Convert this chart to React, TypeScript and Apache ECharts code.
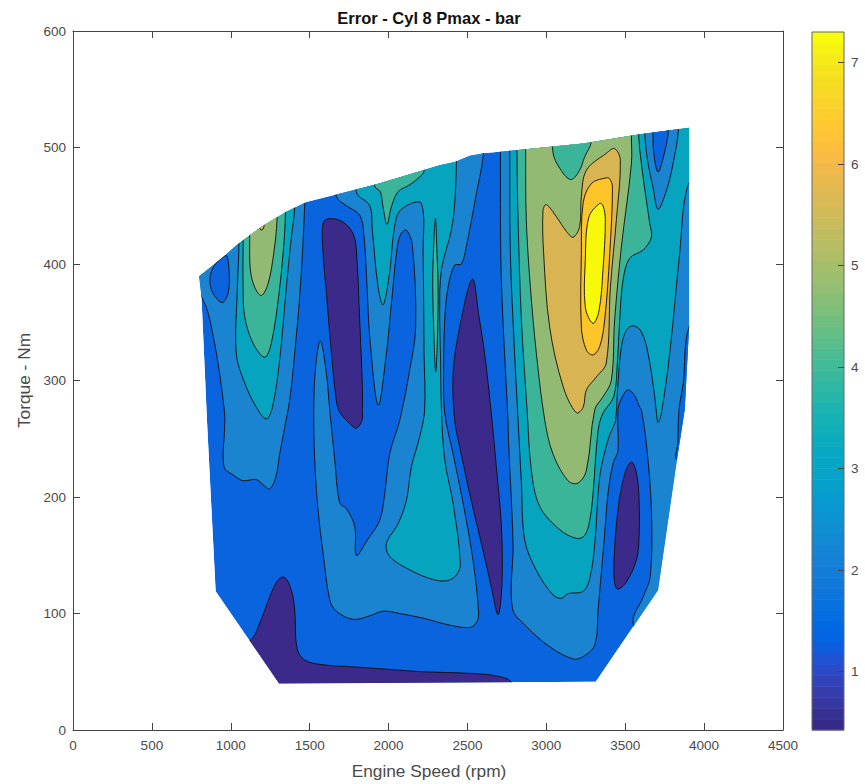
import React, { useEffect, useRef } from "react";
import * as echarts from "echarts";

type Pt = number[];

const xTickValues = [0, 500, 1000, 1500, 2000, 2500, 3000, 3500, 4000, 4500];
const yTickValues = [0, 100, 200, 300, 400, 500, 600];
const colorbarTicks = [1, 2, 3, 4, 5, 6, 7];
const colorbarMin = 0.426;
const colorbarMax = 7.3;

const bandColors = ["#3b2a8a", "#0a64de", "#1a84d0", "#07a4c0", "#3ab59a", "#93ba72", "#d9b452", "#fdc528", "#f8f80a"];

const parula = [
  [0.2081,0.1663,0.5292],[0.2116,0.1898,0.5777],[0.2123,0.2138,0.627],[0.2081,0.2386,0.6771],[0.1959,0.2645,0.7279],[0.1707,0.2919,0.7792],[0.1253,0.3242,0.8303],[0.0591,0.3598,0.8683],
  [0.0117,0.3875,0.882],[0.006,0.4086,0.8828],[0.0165,0.4266,0.8786],[0.0329,0.443,0.872],[0.0498,0.4586,0.8641],[0.0629,0.4737,0.8554],[0.0723,0.4887,0.8467],[0.0779,0.504,0.8384],
  [0.0793,0.52,0.8312],[0.0749,0.5375,0.8263],[0.0641,0.557,0.824],[0.0488,0.5772,0.8228],[0.0343,0.5966,0.8199],[0.0265,0.6137,0.8135],[0.0239,0.6287,0.8038],[0.0231,0.6418,0.7913],
  [0.0228,0.6535,0.7768],[0.0267,0.6642,0.7607],[0.0384,0.6743,0.7436],[0.059,0.6838,0.7254],[0.0843,0.6928,0.7062],[0.1133,0.7015,0.6859],[0.1453,0.7098,0.6646],[0.1801,0.7177,0.6424],
  [0.2178,0.725,0.6193],[0.2586,0.7317,0.5954],[0.3022,0.7376,0.5712],[0.3482,0.7424,0.5473],[0.3953,0.7459,0.5244],[0.442,0.7481,0.5033],[0.4871,0.7491,0.484],[0.53,0.7491,0.4661],
  [0.5709,0.7485,0.4494],[0.6099,0.7473,0.4337],[0.6473,0.7456,0.4188],[0.6834,0.7435,0.4044],[0.7184,0.7411,0.3905],[0.7525,0.7384,0.3768],[0.7858,0.7356,0.3633],[0.8185,0.7327,0.3498],
  [0.8507,0.7299,0.336],[0.8824,0.7274,0.3217],[0.9139,0.7258,0.3063],[0.945,0.7261,0.2886],[0.9739,0.7314,0.2666],[0.9938,0.7455,0.2403],[0.999,0.7653,0.2164],[0.9955,0.7861,0.1967],
  [0.988,0.8066,0.1794],[0.9789,0.8271,0.1633],[0.9697,0.8481,0.1475],[0.9626,0.8705,0.1309],[0.9589,0.8949,0.1132],[0.9598,0.9218,0.0948],[0.9661,0.9514,0.0755],[0.9763,0.9831,0.0538],
];

// Outline of the measured operating range (rpm, Nm)
const domain: Pt[] = [
  [799,389.5],[951,406],[1035,416],[1194,432],[1352,444.8],[1479,453.3],[1648,459],[1923,468.5],[2219,480.5],[2324,484.8],[2419,487.6],[2514,493],[2599,495],[3233,503.4],[3592,511.4],[3905,517],
  [3905,346],[3877,275],[3828,232],[3708,120],[3313,41.5],[1306,40],[904,119],[850,263],[814,372],
];

// Contour loops (rpm, Nm); points beyond the outline are cut off by it
const navyUpperLeft: Pt[] = [[1585,435],[1627,439],[1712,436],[1775,426],[1796,412],[1817,352],[1834,295],[1834,275],[1832,266],[1796,259],[1754,263],[1690,273],[1669,283],[1638,323],[1606,375],[1585,409]];
const navyCentre: Pt[] = [[2531,387],[2451,346],[2409,306],[2419,266],[2451,243],[2514,203],[2599,154],[2651,123],[2694,99],[2719,126],[2715,175],[2683,226],[2651,272],[2609,323],[2573,355]];
const navyRight: Pt[] = [[3539,230],[3497,220],[3454,189],[3429,146],[3433,126],[3454,121],[3507,127],[3571,146],[3588,166],[3586,203],[3567,223]];
const navyBottom: Pt[] = [[1126,77],[1183,91.5],[1247,114.4],[1300,129],[1342,131],[1384,120],[1405,103],[1420,70],[1469,60],[1585,56],[1796,54],[2007,52],[2219,50],[2514,48.6],[2683,46.4],[2778,41],[2800,20],[1000,20],[1000,70]];

const leftBand2: Pt[] = [[700,420],[814,372],[845,363],[877,346],[919,315],[961,272],[961,260],[957,226],[1014,219],[1078,214],[1162,215],[1209,210],[1247,207],[1285,217],[1310,237],[1342,260],[1373,283],[1405,323],[1441,380],[1469,452],[1472,490],[700,490]];
const leftIsland1: Pt[] = [[976,407],[991,389],[983,375],[951,367],[919,369],[877,378],[869,389],[898,399],[951,406]];
const leftBand3: Pt[] = [[1052,418],[1042,380],[1035,323],[1088,298],[1162,277],[1225,267],[1264,277],[1310,318],[1352,380],[1384,423],[1405,448],[1408,490],[1052,490]];
const leftBand4: Pt[] = [[1078,418],[1078,380],[1088,355],[1141,332],[1215,320],[1257,332],[1306,375],[1338,420],[1346,442],[1348,490],[1078,490]];
const leftBand5: Pt[] = [[1120,422],[1124,395],[1152,380],[1194,373],[1236,383],[1272,409],[1293,438],[1295,490],[1120,490]];
const leftBand6: Pt[] = [[1180,432],[1195,429],[1210,432],[1210,450],[1180,450]];

const mainBand2: Pt[] = [[1640,490],[1669,458],[1733,450],[1817,442],[1843,426],[1864,380],[1881,337],[1934,279],[1986,323],[2018,366],[2050,409],[2075,425],[2113,429],[2151,416],[2172,346],[2134,309],[2071,266],[2007,237],[1976,203],[1944,180],[1870,164],[1796,150],[1786,174.5],[1733,190],[1690,195],[1659,232],[1627,275],[1606,306],[1568,334],[1538,312],[1526,275],[1532,232],[1553,189],[1585,152],[1627,112],[1669,102],[1775,95],[1881,98],[1965,102],[2071,100],[2219,96],[2388,90],[2514,88],[2556,92],[2571,100],[2535,146],[2472,195],[2409,237],[2356,272],[2349,306],[2356,352],[2377,380],[2419,399],[2461,400],[2493,415],[2556,460],[2599,492],[2610,530],[1640,530]];
const mainBand3: Pt[] = [[1796,462],[1881,450],[1897,429],[1934,380],[1965,365],[2003,389],[2050,440],[2113,450],[2208,452],[2219,409],[2225,323],[2229,275],[2198,252],[2145,226],[2113,197],[2060,177],[1986,160],[2007,149],[2113,139],[2261,130],[2367,128],[2430,133],[2455,143],[2409,194.5],[2356,232],[2335,275],[2329,323],[2324,358],[2335,395],[2398,429],[2419,452],[2430,486],[2432,530],[1796,530]];
const topBand4: Pt[] = [[1912,467],[1948,462],[1965,449],[1990,434],[2018,449],[2060,462],[2134,468],[2208,476],[2225,480],[2227,530],[1912,530]];
const spikeBand4: Pt[] = [[2297,439],[2307,409],[2314,380],[2310,337],[2299,307.5],[2288,337],[2280,380],[2284,409]];

const rightBand2: Pt[] = [[2709,495],[2711,409],[2725,352],[2757,266],[2761,246],[2789,160],[2785,104.5],[2873,89],[3021,71.5],[3169,61],[3233,63],[3307,73],[3328,103],[3370,169],[3391,203],[3423,229],[3454,240],[3454,275],[3482,286],[3518,292],[3560,287],[3592,277],[3602,275],[3634,246],[3666,189],[3659,132],[3613,114],[3550,91.5],[3700,60],[4000,100],[4000,560],[2709,560]];
const edgeSliver1: Pt[] = [[3905,346],[3867,297],[3841,275],[3833,246],[3828,232],[4000,232],[4000,346]];
const rightBand3: Pt[] = [[2768,496],[2772,409],[2799,323],[2821,266],[2842,212],[2863,163],[2937,137],[3042,116],[3095,113],[3137,117],[3233,119],[3275,130],[3307,160],[3338,217],[3391,249],[3433,263],[3440,266],[3454,297],[3476,329],[3507,343],[3550,347],[3602,342],[3645,323],[3687,286],[3698,272],[3708,264],[3729,272],[3782,323],[3845,409],[3898,468],[4000,480],[4000,560],[2768,560]];
const wedgeBand2: Pt[] = [[3624,512],[3645,486],[3676,466],[3708,447],[3761,463],[3803,486],[3837,515],[3840,560],[3624,560]];
const wedgeBand1: Pt[] = [[3676,512],[3681,495],[3708,479],[3744,493],[3774,515],[3776,560],[3676,560]];
const rightBand4: Pt[] = [[2814,496],[2821,438],[2842,352],[2878,275],[2905,223],[2958,192],[3085,172],[3190,164.5],[3243,167],[3275,180],[3296,203],[3328,257],[3359,272],[3427,286],[3450,315],[3465,352],[3486,386],[3528,405],[3613,412],[3666,423],[3655,435],[3613,475],[3585,511],[3585,560],[2814,560]];
const rightBand5: Pt[] = [[2869,496],[2873,438],[2899,380],[2937,323],[2990,266],[3042,237],[3137,214],[3201,212],[3254,223],[3307,275],[3359,286],[3412,300],[3433,352],[3476,415],[3539,486],[3539,511],[3540,560],[2869,560]];
const topBlobBand4: Pt[] = [[3042,496],[3106,478],[3159,472.5],[3211,480.5],[3243,492],[3285,505],[3287,560],[3042,560]];
const rightBand6: Pt[] = [[3000,451],[2979,446],[2983,409],[3021,346],[3106,295],[3190,272.3],[3233,277],[3254,292],[3317,303],[3380,315],[3406,380],[3444,438],[3469,489],[3433,499],[3380,495],[3254,480.5],[3222,458],[3211,432],[3169,423],[3127,428],[3064,440.5]];
const rightBand7: Pt[] = [[3381,474],[3285,469],[3233,452],[3222,409],[3222,346],[3254,326],[3296,322],[3338,329],[3370,352],[3402,409],[3419,466],[3402,473]];
const rightBand8: Pt[] = [[3338,452],[3269,440],[3247,403],[3247,363],[3296,349],[3334,360],[3359,395],[3374,438],[3359,450]];

const layers: { band: number; points: Pt[]; base?: boolean }[] = [
  { band: 1, points: domain, base: true },
  { band: 2, points: leftBand2 },
  { band: 1, points: leftIsland1 },
  { band: 3, points: leftBand3 },
  { band: 4, points: leftBand4 },
  { band: 5, points: leftBand5 },
  { band: 6, points: leftBand6 },
  { band: 2, points: mainBand2 },
  { band: 3, points: mainBand3 },
  { band: 4, points: topBand4 },
  { band: 4, points: spikeBand4 },
  { band: 2, points: rightBand2 },
  { band: 1, points: edgeSliver1 },
  { band: 3, points: rightBand3 },
  { band: 2, points: wedgeBand2 },
  { band: 1, points: wedgeBand1 },
  { band: 4, points: rightBand4 },
  { band: 5, points: rightBand5 },
  { band: 4, points: topBlobBand4 },
  { band: 6, points: rightBand6 },
  { band: 7, points: rightBand7 },
  { band: 8, points: rightBand8 },
  { band: 0, points: navyUpperLeft },
  { band: 0, points: navyCentre },
  { band: 0, points: navyRight },
  { band: 0, points: navyBottom },
];

const FONT = "'Liberation Sans', Arial, sans-serif";
const LABEL = "#4a4a4a";
const AXIS = "#444444";

export default function App() {
  const ref = useRef<HTMLDivElement>(null);
  useEffect(() => {
    const chart = echarts.init(ref.current!, undefined, { renderer: "svg" });
    const line = { show: true, onZero: false, lineStyle: { color: AXIS, width: 1 } };
    const tick = { show: true, inside: true, length: 7, lineStyle: { color: AXIS } };
    const sideAxis = {
      axisLine: line,
      axisTick: tick,
      splitLine: { show: false },
      axisLabel: { show: false },
    };
    const mainLabel = { color: LABEL, fontSize: 13.5, fontFamily: FONT, margin: 8, formatter: (v: number) => String(v) };
    const step = (colorbarMax - colorbarMin) / parula.length;
    chart.setOption({
      animation: false,
      backgroundColor: "#ffffff",
      title: {
        text: "Error - Cyl 8 Pmax - bar",
        left: 424,
        top: 4,
        textAlign: "center",
        textStyle: { fontFamily: FONT, fontWeight: "bold", fontSize: 16.5, color: "#111" },
      },
      grid: [
        { left: 73, top: 31, width: 710, height: 699 },
        { left: 812, top: 32, width: 32, height: 698 },
      ],
      xAxis: [
        {
          type: "value", gridIndex: 0, min: 0, max: 4500, interval: 500, position: "bottom",
          name: "Engine Speed (rpm)", nameLocation: "middle", nameGap: 32,
          nameTextStyle: { color: LABEL, fontSize: 17.3, fontFamily: FONT, padding: [0, 0, 0, 2] },
          axisLine: line,
          axisTick: tick,
          splitLine: { show: false },
          axisLabel: { ...mainLabel, customValues: xTickValues },
        },
        { type: "value", gridIndex: 0, min: 0, max: 4500, interval: 500, position: "top", ...sideAxis },
        { type: "value", gridIndex: 1, min: 0, max: 1, show: false },
      ],
      yAxis: [
        {
          type: "value", gridIndex: 0, min: 0, max: 600, interval: 100, position: "left",
          name: "Torque - Nm", nameLocation: "middle", nameGap: 35,
          nameTextStyle: { color: LABEL, fontSize: 17.3, fontFamily: FONT },
          axisLine: line,
          axisTick: tick,
          splitLine: { show: false },
          axisLabel: { ...mainLabel, margin: 7, customValues: yTickValues },
        },
        { type: "value", gridIndex: 0, min: 0, max: 600, interval: 100, position: "right", ...sideAxis },
        {
          type: "value", gridIndex: 1, min: colorbarMin, max: colorbarMax, position: "right", z: 20,
          axisLine: { show: false, onZero: false },
          axisTick: { show: true, inside: true, length: 6, lineStyle: { color: AXIS }, customValues: colorbarTicks },
          splitLine: { show: false },
          axisLabel: { color: LABEL, fontSize: 13.5, fontFamily: FONT, margin: 7, customValues: colorbarTicks },
        },
      ],
      series: [
        {
          type: "custom",
          name: "contours",
          coordinateSystem: "cartesian2d",
          xAxisIndex: 0,
          yAxisIndex: 0,
          clip: false,
          silent: true,
          data: layers.map((_, i) => [i]),
          encode: { x: [], y: [] },
          renderItem: (_p: any, api: any) => {
            const layer = layers[api.value(0)];
            const clipPoints = domain.map((p) => api.coord(p));
            return {
              type: "polygon",
              shape: { points: layer.points.map((p) => api.coord(p)), smooth: layer.base ? 0 : 0.35 },
              style: {
                fill: bandColors[layer.band],
                stroke: layer.base ? null : "#0d0d0d",
                lineWidth: 0.9,
              },
              clipPath: { type: "polygon", shape: { points: clipPoints } },
            };
          },
        },
        {
          type: "custom",
          name: "colorbar",
          coordinateSystem: "cartesian2d",
          xAxisIndex: 2,
          yAxisIndex: 2,
          silent: true,
          data: [...parula.map((_, i) => [i]), [parula.length]],
          encode: { x: [], y: [] },
          renderItem: (_p: any, api: any) => {
            const i = api.value(0);
            if (i === parula.length) {
              const [l, b] = api.coord([0, colorbarMin]);
              const [r, t] = api.coord([1, colorbarMax]);
              return {
                type: "rect",
                shape: { x: l, y: t, width: r - l, height: b - t },
                style: { fill: "none", stroke: "#666666", lineWidth: 1 },
              };
            }
            const [x0, y0] = api.coord([0, colorbarMin + i * step]);
            const [x1, y1] = api.coord([1, colorbarMin + (i + 1) * step]);
            const c = parula[i].map((v) => Math.round(v * 255));
            return {
              type: "rect",
              shape: { x: x0, y: y1, width: x1 - x0, height: y0 - y1 + 0.5 },
              style: { fill: `rgb(${c[0]},${c[1]},${c[2]})` },
            };
          },
        },
      ],
    });
    return () => chart.dispose();
  }, []);
  return <div ref={ref} style={{ position: "fixed", left: 0, top: 0, width: 865, height: 784, background: "#fff" }} />;
}
